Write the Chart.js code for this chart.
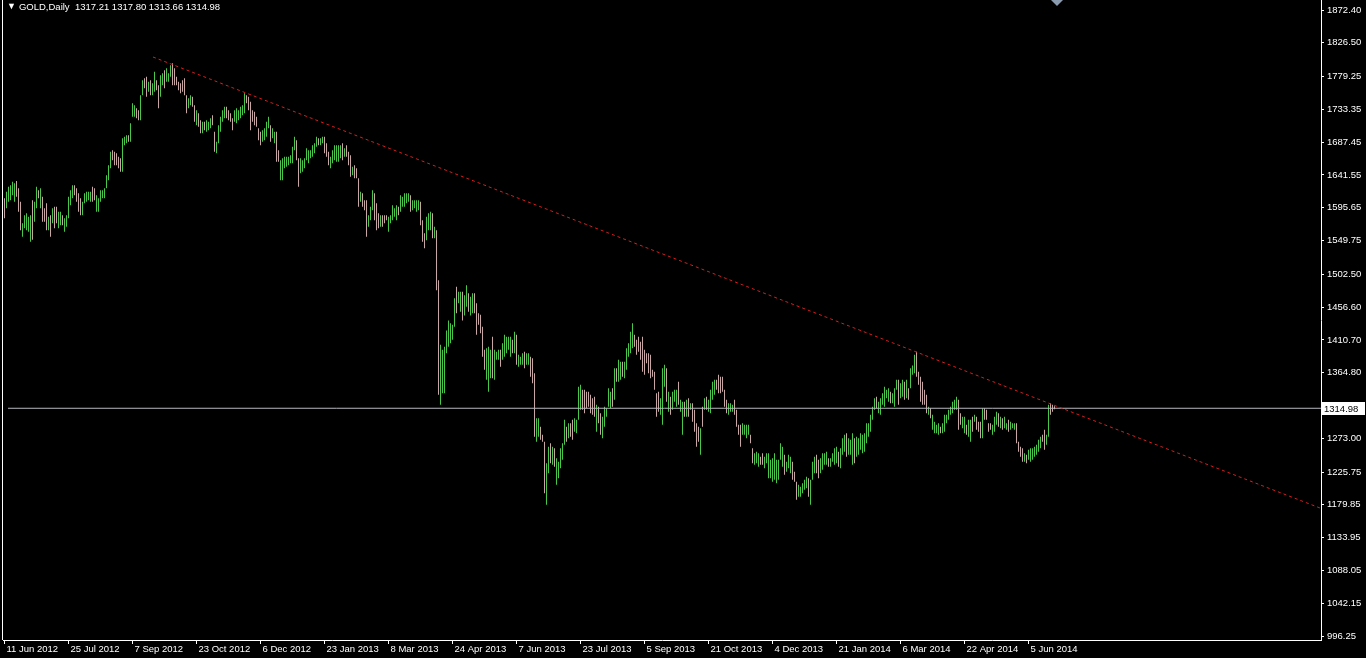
<!DOCTYPE html>
<html>
<head>
<meta charset="utf-8">
<title>GOLD,Daily</title>
<script src="https://cdn.jsdelivr.net/npm/chart.js@4.4.1/dist/chart.umd.min.js"></script>
<style>
  html, body { margin: 0; padding: 0; background: #000; overflow: hidden; }
  #wrap { position: relative; width: 1366px; height: 658px; }
  #chart { display: block; }
  #header { position: absolute; left: 7px; top: 1px; color: #fff; font: 9.5px 'Liberation Sans', Arial, sans-serif; white-space: pre; }
  #header .arrow { font-size: 9px; margin-right: 3px; position: relative; top: -1px; }
</style>
</head>
<body>
<div id="wrap">
  <canvas id="chart" width="1366" height="658"></canvas>
  <div id="header"><span class="arrow">▼</span><span id="headerText"></span></div>
</div>
<script>
// daily bars, 11 Jun 2012 .. 24 Jun 2014
const highs = [
  1609,1618,1625,1627,1632,1630,1633,1623,1604,1574,
  1585,1588,1583,1585,1606,1604,1625,1620,1623,1611,
  1595,1602,1583,1585,1595,1597,1597,1590,1590,1585,
  1581,1585,1611,1620,1627,1627,1623,1616,1609,1604,
  1616,1618,1618,1618,1625,1623,1613,1609,1620,1620,
  1623,1641,1655,1674,1676,1674,1672,1667,1665,1693,
  1695,1697,1697,1714,1742,1739,1735,1732,1753,1774,
  1777,1779,1772,1774,1770,1786,1774,1767,1781,1784,
  1788,1791,1784,1795,1798,1791,1779,1772,1770,1774,
  1777,1753,1749,1753,1751,1739,1732,1728,1718,1716,
  1716,1718,1716,1721,1725,1702,1688,1711,1723,1732,
  1737,1737,1732,1728,1721,1732,1735,1732,1737,1739,
  1756,1753,1751,1744,1732,1730,1723,1707,1702,1704,
  1707,1716,1723,1711,1707,1702,1702,1676,1662,1665,
  1667,1667,1667,1669,1681,1695,1690,1665,1665,1662,
  1665,1679,1676,1676,1683,1686,1695,1693,1693,1695,
  1695,1686,1674,1667,1676,1683,1683,1683,1683,1686,
  1679,1683,1674,1669,1653,1655,1651,1637,1618,1616,
  1606,1606,1585,1597,1620,1616,1602,1588,1585,1585,
  1585,1585,1583,1585,1599,1595,1599,1597,1613,1611,
  1616,1616,1616,1613,1606,1606,1606,1606,1604,1578,
  1560,1583,1588,1590,1588,1569,1564,1494,1404,1397,
  1401,1424,1438,1434,1432,1469,1485,1478,1478,1478,
  1473,1487,1476,1471,1476,1476,1462,1448,1446,1429,
  1397,1399,1401,1397,1415,1397,1394,1397,1397,1406,
  1418,1415,1415,1415,1411,1422,1418,1390,1387,1392,
  1394,1392,1392,1387,1385,1364,1301,1301,1289,1278,
  1268,1238,1261,1266,1261,1259,1245,1240,1259,1266,
  1299,1289,1294,1294,1299,1301,1299,1345,1348,1341,
  1341,1338,1338,1334,1329,1331,1320,1317,1308,1303,
  1317,1315,1343,1338,1343,1371,1371,1383,1380,1380,
  1380,1399,1406,1422,1434,1418,1411,1415,1408,1415,
  1397,1392,1392,1390,1369,1366,1336,1338,1329,1371,
  1376,1371,1338,1331,1338,1341,1341,1352,1327,1324,
  1324,1327,1329,1322,1322,1313,1294,1289,1287,1317,
  1329,1331,1327,1341,1352,1355,1355,1362,1359,1359,
  1341,1327,1322,1322,1320,1327,1313,1292,1292,1294,
  1292,1292,1292,1278,1259,1252,1254,1252,1247,1252,
  1247,1252,1252,1243,1245,1252,1243,1243,1266,1261,
  1250,1240,1250,1247,1240,1226,1212,1208,1205,1210,
  1215,1219,1217,1215,1240,1247,1250,1243,1245,1252,
  1252,1254,1245,1245,1252,1259,1261,1254,1259,1273,
  1278,1280,1273,1271,1280,1273,1275,1273,1280,1278,
  1280,1294,1294,1306,1317,1329,1331,1324,1329,1336,
  1345,1341,1343,1338,1336,1343,1355,1355,1350,1355,
  1352,1355,1343,1371,1375,1390,1394,1366,1359,1352,
  1341,1334,1317,1315,1306,1296,1292,1294,1289,1294,
  1306,1306,1313,1317,1324,1327,1331,1327,1308,1303,
  1303,1292,1299,1299,1303,1306,1303,1296,1296,1315,
  1315,1313,1294,1294,1292,1303,1310,1308,1303,1301,
  1303,1294,1299,1296,1294,1294,1294,1268,1261,1259,
  1252,1250,1257,1259,1259,1261,1264,1271,1275,1278,
  1285,1278,1320,1322,1320,1317.80
];

const lows = [
  1581,1595,1604,1606,1613,1604,1611,1590,1564,1555,
  1567,1564,1562,1548,1551,1576,1595,1609,1595,1576,
  1576,1564,1564,1555,1574,1567,1574,1567,1571,1571,
  1562,1569,1581,1599,1609,1613,1604,1590,1585,1585,
  1602,1604,1606,1604,1604,1606,1590,1590,1604,1609,
  1609,1623,1634,1651,1662,1655,1655,1651,1646,1646,
  1683,1686,1688,1688,1723,1723,1721,1718,1718,1753,
  1763,1751,1758,1753,1753,1758,1760,1735,1751,1767,
  1763,1772,1772,1779,1767,1767,1767,1760,1756,1758,
  1753,1728,1735,1739,1737,1716,1711,1709,1700,1700,
  1704,1702,1704,1707,1711,1674,1672,1686,1702,1716,
  1721,1721,1718,1716,1704,1716,1714,1718,1721,1725,
  1728,1742,1732,1704,1716,1711,1709,1690,1683,1688,
  1690,1695,1707,1688,1693,1686,1660,1660,1634,1634,
  1651,1653,1655,1658,1658,1676,1662,1625,1644,1646,
  1651,1662,1658,1665,1667,1672,1681,1683,1683,1686,
  1672,1667,1655,1651,1658,1662,1660,1660,1665,1662,
  1667,1667,1655,1639,1641,1637,1637,1597,1604,1597,
  1592,1555,1569,1578,1592,1578,1564,1567,1569,1569,
  1574,1578,1562,1574,1578,1583,1578,1585,1590,1597,
  1597,1602,1604,1590,1592,1595,1590,1592,1571,1548,
  1539,1550,1564,1564,1553,1553,1480,1334,1320,1336,
  1336,1392,1401,1406,1411,1429,1448,1462,1450,1438,
  1445,1457,1450,1445,1448,1448,1418,1432,1420,1387,
  1369,1355,1338,1357,1357,1355,1383,1383,1373,1383,
  1387,1392,1397,1387,1392,1392,1376,1373,1376,1376,
  1371,1376,1376,1359,1350,1275,1268,1275,1271,1268,
  1196,1180,1224,1238,1236,1233,1208,1217,1231,1243,
  1264,1268,1273,1275,1271,1282,1280,1299,1313,1313,
  1308,1315,1317,1308,1306,1303,1282,1294,1278,1273,
  1289,1303,1317,1315,1317,1327,1352,1352,1355,1359,
  1357,1369,1387,1392,1399,1401,1390,1394,1383,1366,
  1362,1378,1364,1357,1359,1341,1303,1310,1306,1292,
  1345,1324,1310,1306,1313,1324,1317,1320,1310,1278,
  1303,1303,1303,1313,1296,1282,1261,1268,1250,1289,
  1313,1313,1310,1308,1327,1334,1341,1336,1336,1338,
  1317,1308,1306,1310,1310,1306,1289,1278,1261,1278,
  1278,1273,1278,1266,1238,1236,1238,1233,1236,1236,
  1231,1238,1217,1217,1212,1215,1210,1215,1243,1233,
  1222,1226,1231,1224,1215,1212,1187,1191,1191,1196,
  1201,1203,1191,1180,1215,1224,1224,1217,1224,1229,
  1236,1236,1233,1233,1240,1236,1238,1233,1231,1250,
  1254,1247,1250,1250,1236,1238,1247,1250,1257,1252,
  1254,1266,1275,1282,1299,1313,1315,1308,1306,1320,
  1317,1329,1324,1322,1322,1317,1341,1320,1329,1331,
  1327,1329,1327,1343,1362,1364,1359,1348,1324,1320,
  1320,1308,1306,1301,1285,1280,1280,1278,1280,1280,
  1282,1294,1299,1306,1308,1313,1313,1285,1292,1287,
  1280,1278,1275,1268,1282,1296,1285,1282,1273,1273,
  1299,1299,1282,1285,1278,1282,1292,1289,1287,1285,
  1287,1285,1282,1285,1287,1285,1266,1254,1247,1240,
  1240,1238,1243,1240,1243,1247,1250,1254,1259,1268,
  1257,1264,1275,1306,1310,1313.66
];

// u = close above open (green bar), d = close below open
const barDirs =
  'duuuuudddu' + 'uuuuduudud' + 'ddududduud' + 'uuuuuddddu' + 'uuuudduuuu' +
  'uuuudddddu' + 'uuduuudduu' + 'dduduudduu' + 'duuudddddd' + 'dduudduddu' +
  'duuudduuuu' + 'udddduuuuu' + 'uddddddddu' + 'uuuduudduu' + 'uuuuuudduu' +
  'uuuuuuuduu' + 'ddduuuuuud' + 'udddudddud' + 'dduuudddud' + 'dduuuuuduu' +
  'uuuduuuudd' + 'duuududduu' + 'uuuuuuduud' + 'uuduuddddd' + 'duuuduuudu' +
  'uuuududuuu' + 'duuddduudd' + 'duududuuuu' + 'ududduuuud' + 'dddddduddu' +
  'uuuududuud' + 'uuuuuddddd' + 'dddddddduu' + 'ududuuuduu' + 'dududdddud' +
  'uduuuudddd' + 'dduuuddddu' + 'uuudduuudd' + 'uuuuuuuuuu' + 'duuuddduuu' +
  'uuduuudduu' + 'uuduuuuduu' + 'uduuuduuuu' + 'uuuuuuduuu' + 'uuuduuuduu' +
  'duduuudddd' + 'dduduuuudu' + 'uuuuuuuddu' + 'uduududddu' + 'dddduuudud' +
  'uuduuudddd' + 'uduuuuuuud' + 'duuddd';

const lastOHLC = [1317.21, 1317.80, 1313.66, 1314.98];

const tickBars = [0, 32, 64, 96, 128, 160, 192, 224, 256, 288, 320, 352, 384, 416, 448, 480, 512];
const tickDates = ['11 Jun 2012', '25 Jul 2012', '7 Sep 2012', '23 Oct 2012', '6 Dec 2012', '23 Jan 2013',
  '8 Mar 2013', '24 Apr 2013', '7 Jun 2013', '23 Jul 2013', '5 Sep 2013', '21 Oct 2013', '4 Dec 2013',
  '21 Jan 2014', '6 Mar 2014', '22 Apr 2014', '5 Jun 2014'];

const priceTicks = [1872.40, 1826.50, 1779.25, 1733.35, 1687.45, 1641.55, 1595.65, 1549.75, 1502.50,
  1456.60, 1410.70, 1364.80, 1273.00, 1225.75, 1179.85, 1133.95, 1088.05, 1042.15, 996.25];

// trend line anchors (bar index, price)
const trendBars = [74.25, 657.75];
const trendPrices = [1806.6, 1175.4];

const upColor = '#48c848';
const downColor = '#c8a6a6';
const fontFamily = "'Liberation Sans', Arial, sans-serif";

document.getElementById('headerText').textContent =
  'GOLD,Daily  ' + lastOHLC.map(v => v.toFixed(2)).join(' ');

const bars = highs.map((h, i) => ({ x: i, y: [lows[i], h] }));
const barColors = highs.map((h, i) => barDirs[i] === 'u' ? upColor : downColor);

const xMin = -0.75, xMax = 658.25;

// frame, bid label and the little shift marker on top
const frame = {
  id: 'frame',
  afterDraw(chart) {
    const { ctx, chartArea: a, scales: { x, y } } = chart;
    ctx.save();
    ctx.strokeStyle = '#fff';
    ctx.lineWidth = 1;
    ctx.beginPath();
    ctx.moveTo(a.left - 0.5, a.top);
    ctx.lineTo(a.left - 0.5, a.bottom);
    ctx.stroke();

    const py = Math.round(y.getPixelForValue(lastOHLC[3]));
    ctx.fillStyle = '#fff';
    ctx.fillRect(a.right, py - 6, 44, 13);
    ctx.fillStyle = '#000';
    ctx.font = '9.5px ' + fontFamily;
    ctx.textBaseline = 'middle';
    ctx.textAlign = 'left';
    ctx.fillText(lastOHLC[3].toFixed(2), a.right + 3, py + 1);

    const mx = Math.round(x.getPixelForValue(highs.length));
    ctx.fillStyle = '#8a9bb0';
    ctx.beginPath();
    ctx.moveTo(mx - 6, a.top);
    ctx.lineTo(mx + 6, a.top);
    ctx.lineTo(mx, a.top + 6);
    ctx.closePath();
    ctx.fill();
    ctx.restore();
  }
};

const ctx = document.getElementById('chart').getContext('2d');
new Chart(ctx, {
  type: 'bar',
  data: {
    datasets: [
      {
        type: 'line',
        data: trendBars.map((b, i) => ({ x: b, y: trendPrices[i] })),
        borderColor: '#d81e1e',
        borderWidth: 1,
        borderDash: [3, 3],
        pointRadius: 0,
        fill: false,
        order: 0
      },
      {
        type: 'line',
        data: [{ x: xMin + 2.5, y: lastOHLC[3] }, { x: xMax, y: lastOHLC[3] }],
        borderColor: '#b8b8c0',
        borderWidth: 1,
        pointRadius: 0,
        fill: false,
        order: 1
      },
      {
        type: 'bar',
        data: bars,
        backgroundColor: barColors,
        borderWidth: 0,
        barThickness: 1,
        inflateAmount: 0,
        order: 2
      }
    ]
  },
  options: {
    responsive: false,
    animation: false,
    devicePixelRatio: 1,
    layout: { padding: { left: 3, top: 0, right: 0, bottom: 0 } },
    plugins: { legend: { display: false }, tooltip: { enabled: false } },
    scales: {
      x: {
        type: 'linear',
        min: xMin,
        max: xMax,
        offset: false,
        afterBuildTicks: s => { s.ticks = tickBars.map(v => ({ value: v })); },
        afterFit: s => { s.height = 18; s.paddingLeft = 0; s.paddingRight = 0; },
        grid: { offset: false, drawOnChartArea: false, drawTicks: true, tickLength: 4, color: '#fff' },
        border: { display: true, color: '#fff' },
        ticks: {
          color: '#fff',
          font: { family: fontFamily, size: 9.5 },
          autoSkip: false,
          maxRotation: 0,
          align: 'start',
          labelOffset: 2,
          padding: 0,
          callback: (v, i) => tickDates[i]
        }
      },
      y: {
        position: 'right',
        min: 990.66,
        max: 1886.40,
        afterBuildTicks: s => { s.ticks = priceTicks.map(v => ({ value: v })); },
        afterFit: s => { s.width = 45; s.paddingTop = 0; s.paddingBottom = 0; },
        grid: { drawOnChartArea: false, drawTicks: true, tickLength: 3, color: '#fff' },
        border: { display: true, color: '#fff' },
        ticks: {
          color: '#fff',
          font: { family: fontFamily, size: 9.5 },
          autoSkip: false,
          padding: 3,
          callback: v => v.toFixed(2)
        }
      }
    }
  },
  plugins: [frame]
});
</script>
</body>
</html>
